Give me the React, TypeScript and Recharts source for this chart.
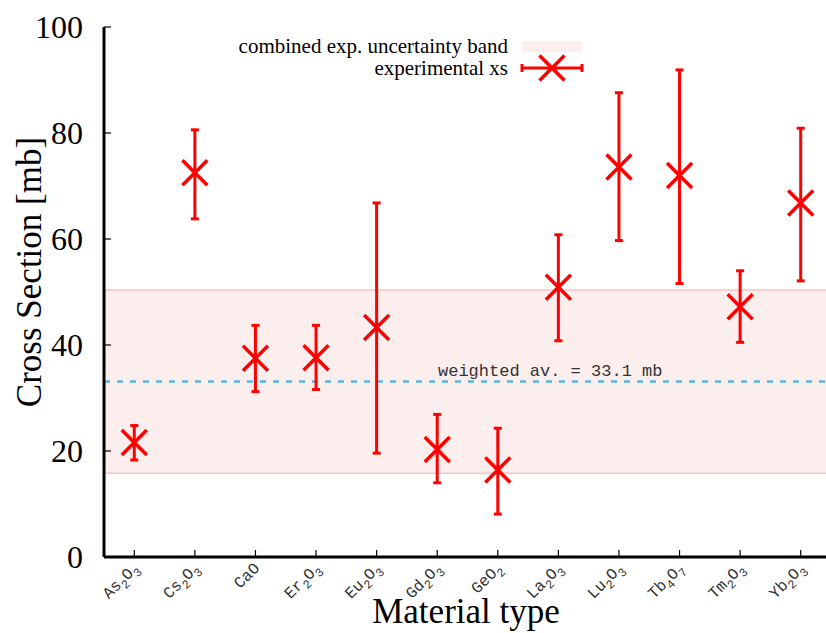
import React from 'react';
import {
  ComposedChart,
  Scatter,
  ErrorBar,
  XAxis,
  YAxis,
  ReferenceArea,
  ReferenceLine,
  Customized,
} from 'recharts';

// materials, digits get drawn as subscripts
const materials = ['As2O3', 'Cs2O3', 'CaO', 'Er2O3', 'Eu2O3', 'Gd2O3', 'GeO2', 'La2O3', 'Lu2O3', 'Tb4O7', 'Tm2O3', 'Yb2O3'];
const xsValues = [21.6, 72.5, 37.5, 37.6, 43.3, 20.3, 16.4, 50.9, 73.6, 72.0, 47.2, 66.8];
const xsLow = [18.3, 63.8, 31.2, 31.6, 19.6, 14.0, 8.1, 40.8, 59.7, 51.6, 40.5, 52.1];
const xsHigh = [24.8, 80.6, 43.7, 43.7, 66.8, 26.9, 24.3, 60.8, 87.6, 91.9, 54.0, 80.9];

const weightedAv = 33.1;
const bandLow = 15.8;
const bandHigh = 50.4;

const yTicks = [0, 20, 40, 60, 80, 100];
const xTicks = materials.map((_, i) => i);

const RED = '#ff0000';
const BAND_FILL = '#fdeeee';
const BAND_EDGE = '#f7c3c3';
const SERIF = '"Liberation Serif", "Times New Roman", serif';
const MONO = '"Liberation Mono", "Courier New", monospace';

const data = materials.map((m, i) => ({
  x: i,
  y: xsValues[i],
  err: [xsValues[i] - xsLow[i], xsHigh[i] - xsValues[i]],
}));

const formula = (s: string) => {
  const parts = s.match(/[A-Za-z]+|\d+/g) || [];
  let sub = false;
  return parts.map((p, i) => {
    const isNum = /\d/.test(p);
    const dy = isNum && !sub ? 5 : !isNum && sub ? -5 : 0;
    sub = isNum;
    return (
      <tspan key={i} dy={dy} fontSize={isNum ? 12 : 16}>
        {p}
      </tspan>
    );
  });
};

const XMark = (props: any) => {
  const { cx, cy } = props;
  const r = 12.5;
  return (
    <path
      d={`M${cx - r},${cy - r}L${cx + r},${cy + r}M${cx - r},${cy + r}L${cx + r},${cy - r}`}
      stroke={RED}
      strokeWidth={3.5}
      fill="none"
    />
  );
};

const BottomTick = (props: any) => {
  const { x, y, payload } = props;
  return (
    <g>
      <line x1={x} x2={x} y1={y} y2={y - 7} stroke="#000" strokeWidth={1.2} />
      <text
        transform={`translate(${x + 5},${y + 12}) rotate(-45)`}
        textAnchor="end"
        fontFamily={MONO}
        fontSize={16}
        fill="#333"
      >
        {formula(materials[payload.value])}
      </text>
    </g>
  );
};

const TopTick = (props: any) => {
  const { x, y } = props;
  return <line x1={x} x2={x} y1={y} y2={y + 7} stroke="#000" strokeWidth={1.2} />;
};

const LeftTick = (props: any) => {
  const { x, y, payload } = props;
  return (
    <g>
      <line x1={x} x2={x + 7} y1={y} y2={y} stroke="#000" strokeWidth={1.2} />
      <text x={x - 21} y={y + 11} textAnchor="end" fontFamily={SERIF} fontSize={32} fill="#000">
        {payload.value}
      </text>
    </g>
  );
};

const RightTick = (props: any) => {
  const { x, y } = props;
  return <line x1={x} x2={x - 7} y1={y} y2={y} stroke="#000" strokeWidth={1.2} />;
};

const AvgLabel = (props: any) => {
  const { viewBox } = props;
  if (!viewBox) return null;
  return (
    <text x={viewBox.x + 334} y={viewBox.y - 6} fontFamily={MONO} fontSize={17} fill="#333">
      {`weighted av. = ${weightedAv} mb`}
    </text>
  );
};

const Overlay = () => {
  const lx = 522;
  const lx2 = 582;
  const ly = 68;
  return (
    <g>
      <text x={466} y={623} textAnchor="middle" fontFamily={SERIF} fontSize={35} fill="#000">
        Material type
      </text>
      <text
        transform="translate(41,272) rotate(-90)"
        textAnchor="middle"
        fontFamily={SERIF}
        fontSize={35}
        fill="#000"
      >
        Cross Section [mb]
      </text>
      {/* legend */}
      <text x={508} y={53} textAnchor="end" fontFamily={SERIF} fontSize={21} fill="#000">
        combined exp. uncertainty band
      </text>
      <rect x={lx} y={41} width={lx2 - lx} height={11} fill={BAND_FILL} />
      <text x={508} y={75} textAnchor="end" fontFamily={SERIF} fontSize={21} fill="#000">
        experimental xs
      </text>
      <line x1={lx} x2={lx2} y1={ly} y2={ly} stroke={RED} strokeWidth={3} />
      <line x1={lx} x2={lx} y1={ly - 4} y2={ly + 4} stroke={RED} strokeWidth={3} />
      <line x1={lx2} x2={lx2} y1={ly - 4} y2={ly + 4} stroke={RED} strokeWidth={3} />
      <XMark cx={(lx + lx2) / 2} cy={ly} />
    </g>
  );
};

export default function App() {
  return (
    <div
      style={{
        position: 'absolute',
        left: 0,
        top: 0,
        width: 826,
        height: 633,
        overflow: 'hidden',
        background: '#fff',
      }}
    >
      <ComposedChart width={840} height={633} margin={{ top: 27, right: 0, bottom: 0, left: 0 }}>
        <XAxis
          dataKey="x"
          type="number"
          domain={[-0.5, 11.5]}
          ticks={xTicks}
          height={76}
          tickSize={0}
          tickMargin={0}
          tickLine={false}
          axisLine={{ stroke: '#000', strokeWidth: 3 }}
          tick={<BottomTick />}
          interval={0}
        />
        <XAxis
          xAxisId="top"
          orientation="top"
          type="number"
          domain={[-0.5, 11.5]}
          ticks={xTicks}
          height={0}
          tickSize={0}
          tickMargin={0}
          tickLine={false}
          axisLine={{ stroke: '#000', strokeWidth: 2 }}
          tick={<TopTick />}
          interval={0}
        />
        <YAxis
          dataKey="y"
          type="number"
          domain={[0, 100]}
          ticks={yTicks}
          width={104}
          tickSize={0}
          tickMargin={0}
          tickLine={false}
          axisLine={{ stroke: '#000', strokeWidth: 3 }}
          tick={<LeftTick />}
          interval={0}
        />
        <YAxis
          yAxisId="right"
          orientation="right"
          type="number"
          domain={[0, 100]}
          ticks={yTicks}
          width={9}
          tickSize={0}
          tickMargin={0}
          tickLine={false}
          axisLine={{ stroke: '#000', strokeWidth: 2 }}
          tick={<RightTick />}
          interval={0}
        />
        <ReferenceArea y1={bandLow} y2={bandHigh} fill={BAND_FILL} fillOpacity={1} stroke="none" />
        <ReferenceLine y={bandLow} stroke={BAND_EDGE} strokeWidth={1.5} />
        <ReferenceLine y={bandHigh} stroke={BAND_EDGE} strokeWidth={1.5} />
        <ReferenceLine
          y={weightedAv}
          stroke="#56b4e9"
          strokeWidth={2.5}
          strokeDasharray="6 7"
          label={<AvgLabel />}
        />
        <Scatter data={data} dataKey="y" fill={RED} shape={<XMark />} isAnimationActive={false}>
          <ErrorBar dataKey="err" direction="y" width={4} stroke={RED} strokeWidth={3} isAnimationActive={false} />
        </Scatter>
        <Customized component={<Overlay />} />
      </ComposedChart>
    </div>
  );
}
